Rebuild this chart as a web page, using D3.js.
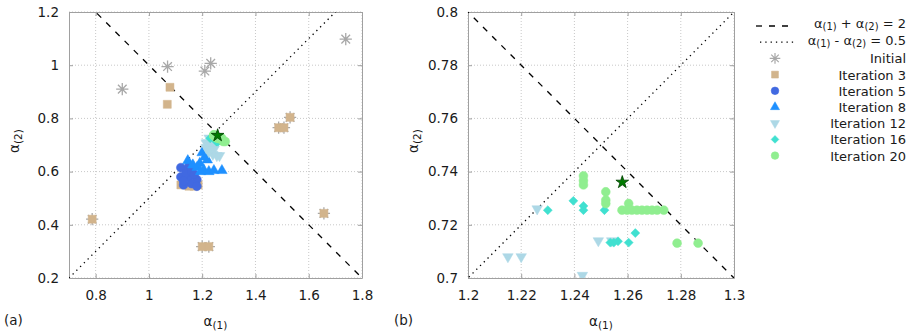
<!DOCTYPE html>
<html lang="en">
<head>
<meta charset="UTF-8">
<script src="https://cdn.jsdelivr.net/npm/d3@7"></script>
<style>
  body { margin: 0; background: #fff; }
  svg { display: block; font-family: "DejaVu Sans", sans-serif; }
</style>
</head>
<body>
<div id="container"></div>
<script>
// ---- data (alpha1, alpha2) ----
const initialPts = [[0.9, 0.91], [1.07, 0.995], [1.21, 0.978], [1.232, 1.007], [1.739, 1.098],
  [1.487, 0.765], [1.507, 0.765], [1.53, 0.804], [0.787, 0.421], [1.657, 0.443], [1.2, 0.318], [1.225, 0.318]];
const iter3Pts = [[1.079, 0.917], [1.069, 0.853], [1.487, 0.765], [1.507, 0.765], [1.53, 0.804],
  [0.787, 0.421], [1.657, 0.443], [1.2, 0.318], [1.225, 0.318],
  [1.12, 0.55], [1.15, 0.545], [1.17, 0.545], [1.185, 0.55]];
const iter5Pts = [[1.12, 0.615], [1.15, 0.62], [1.12, 0.58], [1.15, 0.58], [1.18, 0.57], [1.13, 0.55],
  [1.16, 0.555], [1.18, 0.545], [1.14, 0.595], [1.16, 0.60], [1.13, 0.565], [1.17, 0.59]];
const iter8Pts = [[1.146, 0.641], [1.2, 0.671], [1.191, 0.631], [1.219, 0.644], [1.181, 0.616], [1.206, 0.606],
  [1.225, 0.6], [1.244, 0.604], [1.274, 0.604], [1.194, 0.6], [1.165, 0.625], [1.21, 0.655]];
const iter12Pts = [[1.215, 0.708], [1.22, 0.708], [1.226, 0.726], [1.243, 0.701], [1.249, 0.714], [1.254, 0.714],
  [1.215, 0.69], [1.225, 0.675], [1.24, 0.665], [1.255, 0.66], [1.265, 0.66], [1.23, 0.695], [1.245, 0.685]];
const iter16Pts = [[1.23, 0.7255], [1.2396, 0.729], [1.2434, 0.7271], [1.2434, 0.7255], [1.2513, 0.7255],
  [1.2535, 0.7133], [1.2548, 0.7133], [1.2564, 0.7138], [1.2604, 0.7133], [1.2629, 0.7169]];
const iter20Pts = [[1.2434, 0.7384], [1.2434, 0.7366], [1.2434, 0.735], [1.2518, 0.7324], [1.2518, 0.7293],
  [1.2518, 0.728], [1.2604, 0.728], [1.2579, 0.7255], [1.2598, 0.7255], [1.2616, 0.7255], [1.2635, 0.7255],
  [1.2654, 0.7255], [1.2673, 0.7255], [1.2692, 0.7255], [1.2711, 0.7255], [1.2736, 0.7255],
  [1.2786, 0.7131], [1.2865, 0.7131]];
const bestPts = [[1.258, 0.736]];

const legendLabels = ["Initial", "Iteration 3", "Iteration 5", "Iteration 8", "Iteration 12", "Iteration 16", "Iteration 20"];

const xTicksA = [0.8, 1, 1.2, 1.4, 1.6, 1.8];
const yTicksA = [0.2, 0.4, 0.6, 0.8, 1, 1.2];
const xTicksB = [1.2, 1.22, 1.24, 1.26, 1.28, 1.3];
const yTicksB = [0.7, 0.72, 0.74, 0.76, 0.78, 0.8];

// 8-armed gnuplot style asterisk
const symbolStar8 = {
  draw(ctx, size) {
    const r = Math.sqrt(size) / 2;
    const d = r * Math.SQRT1_2;
    ctx.moveTo(-r, 0); ctx.lineTo(r, 0);
    ctx.moveTo(0, -r); ctx.lineTo(0, r);
    ctx.moveTo(-d, -d); ctx.lineTo(d, d);
    ctx.moveTo(-d, d); ctx.lineTo(d, -d);
  }
};

const series = [
  { data: initialPts, type: symbolStar8, size: 150, color: "#a8a8a8", stroke: true },
  { data: iter3Pts, type: d3.symbolSquare, size: 64, color: "#d2b48c" },
  { data: iter5Pts, type: d3.symbolCircle, size: 62, color: "#4169e1" },
  { data: iter8Pts, type: d3.symbolTriangle, size: 48, color: "#1e90ff" },
  { data: iter12Pts, type: d3.symbolTriangle, size: 48, color: "#add8e6", rot: 180 },
  { data: iter16Pts, type: d3.symbolSquare, size: 40, color: "#40e0d0", rot: 45 },
  { data: iter20Pts, type: d3.symbolCircle, size: 62, color: "#90ee90" }
];

const W = 914, H = 336;
const svg = d3.select("#container").append("svg").attr("width", W).attr("height", H);

function panel(id, xDom, yDom, xTicks, yTicks, left, right, tag, fmt) {
  const top = 12, bottom = 278;
  const x = d3.scaleLinear().domain(xDom).range([left, right]);
  const y = d3.scaleLinear().domain(yDom).range([bottom, top]);

  svg.append("clipPath").attr("id", "clip" + id)
    .append("rect").attr("x", left).attr("y", top).attr("width", right - left).attr("height", bottom - top);

  // grid
  const g = svg.append("g");
  g.selectAll(".gx").data(xTicks).enter().append("line")
    .attr("x1", d => x(d)).attr("x2", d => x(d)).attr("y1", top).attr("y2", bottom)
    .attr("stroke", "#c8c8c8").attr("stroke-dasharray", "1,2");
  g.selectAll(".gy").data(yTicks).enter().append("line")
    .attr("y1", d => y(d)).attr("y2", d => y(d)).attr("x1", left).attr("x2", right)
    .attr("stroke", "#c8c8c8").attr("stroke-dasharray", "1,2");

  // axes
  const xAxis = svg.append("g").attr("transform", "translate(0," + bottom + ")")
    .call(d3.axisBottom(x).tickValues(xTicks).tickFormat(fmt).tickSizeInner(-4).tickSizeOuter(0).tickPadding(12));
  const yAxis = svg.append("g").attr("transform", "translate(" + left + ",0)")
    .call(d3.axisLeft(y).tickValues(yTicks).tickFormat(fmt).tickSizeInner(-4).tickSizeOuter(0).tickPadding(10));
  const xTop = svg.append("g").attr("transform", "translate(0," + top + ")")
    .call(d3.axisTop(x).tickValues(xTicks).tickFormat("").tickSizeInner(-4).tickSizeOuter(0));
  const yRight = svg.append("g").attr("transform", "translate(" + right + ",0)")
    .call(d3.axisRight(y).tickValues(yTicks).tickFormat("").tickSizeInner(-4).tickSizeOuter(0));
  [xAxis, yAxis, xTop, yRight].forEach(a => {
    a.select(".domain").attr("stroke", "#a0a0a0");
    a.selectAll(".tick line").attr("stroke", "#a0a0a0");
    a.selectAll("text").attr("font-family", "DejaVu Sans").attr("font-size", "13.5px").attr("fill", "#1a1a1a");
  });

  const plot = svg.append("g").attr("clip-path", "url(#clip" + id + ")");

  // reference lines: a1 + a2 = 2 and a1 - a2 = 0.5
  const line = d3.line().x(d => x(d[0])).y(d => y(d[1]));
  const lo = xDom[0] - 1, hi = xDom[1] + 1;
  plot.append("path").attr("d", line([[lo, 2 - lo], [hi, 2 - hi]]))
    .attr("stroke", "#000").attr("stroke-width", 1.3).attr("stroke-dasharray", "6,7").attr("fill", "none");
  plot.append("path").attr("d", line([[lo, lo - 0.5], [hi, hi - 0.5]]))
    .attr("stroke", "#000").attr("stroke-width", 1.3).attr("stroke-dasharray", "1.3,4").attr("fill", "none");

  series.forEach(s => {
    const sym = d3.symbol().type(s.type).size(s.size);
    plot.selectAll(null).data(s.data).enter().append("path")
      .attr("d", sym)
      .attr("transform", d => "translate(" + x(d[0]) + "," + y(d[1]) + ")" + (s.rot ? " rotate(" + s.rot + ")" : ""))
      .attr("fill", s.stroke ? "none" : s.color)
      .attr("stroke", s.color)
      .attr("stroke-width", s.stroke ? 1.3 : 0.5);
  });
  plot.selectAll(null).data(bestPts).enter().append("path")
    .attr("d", d3.symbol().type(d3.symbolStar).size(50))
    .attr("transform", d => "translate(" + x(d[0]) + "," + y(d[1]) + ")")
    .attr("fill", "#007a00").attr("stroke", "#004000").attr("stroke-width", 0.8);

  // axis labels
  const xl = svg.append("text").attr("x", (left + right) / 2).attr("y", 326)
    .attr("text-anchor", "middle").attr("font-size", "13.5px").attr("fill", "#1a1a1a");
  xl.append("tspan").text("α");
  xl.append("tspan").attr("font-size", "10.5px").attr("dy", 3).text("(1)");

  const yl = svg.append("text")
    .attr("transform", "translate(" + (left - 50) + "," + ((top + bottom) / 2 - 4) + ") rotate(-90)")
    .attr("text-anchor", "middle").attr("font-size", "13.5px").attr("fill", "#1a1a1a");
  yl.append("tspan").text("α");
  yl.append("tspan").attr("font-size", "10.5px").attr("dy", 3).text("(2)");

  svg.append("text").attr("x", tag[1]).attr("y", 325).attr("font-size", "13.5px")
    .attr("fill", "#1a1a1a").text(tag[0]);
}

panel("a", [0.7, 1.8], [0.2, 1.2], xTicksA, yTicksA, 69, 362, ["(a)", 4], d3.format(""));
panel("b", [1.2, 1.3], [0.7, 0.8], xTicksB, yTicksB, 468, 734, ["(b)", 394], d3.format(""));

// legend
const legX = 906, legSym = 775, legY0 = 26, legDy = 16.2;
const leg = svg.append("g").attr("font-size", "13px").attr("fill", "#1a1a1a");
function subLabel(yy, parts) {
  const t = leg.append("text").attr("x", legX).attr("y", yy + 3).attr("text-anchor", "end");
  parts.forEach(p => {
    const ts = t.append("tspan").text(p[0]);
    if (p[1] != null) ts.attr("font-size", p[1] ? "10px" : null).attr("dy", p[1] ? p[1] : -2);
  });
}
leg.append("line").attr("x1", 756).attr("x2", 794).attr("y1", legY0).attr("y2", legY0)
  .attr("stroke", "#000").attr("stroke-width", 1.3).attr("stroke-dasharray", "6,7");
subLabel(legY0 - 1, [["α"], ["(1)", 2], [" + α", 0], ["(2)", 2], [" = 2", 0]]);
leg.append("line").attr("x1", 760).attr("x2", 794).attr("y1", legY0 + legDy).attr("y2", legY0 + legDy)
  .attr("stroke", "#000").attr("stroke-width", 1.3).attr("stroke-dasharray", "1.3,4");
subLabel(legY0 + legDy, [["α"], ["(1)", 2], [" - α", 0], ["(2)", 2], [" = 0.5", 0]]);

series.forEach((s, i) => {
  const yy = legY0 + (i + 2) * legDy;
  leg.append("path")
    .attr("d", d3.symbol().type(s.type).size(s.size * 0.75)())
    .attr("transform", "translate(" + legSym + "," + yy + ")" + (s.rot ? " rotate(" + s.rot + ")" : ""))
    .attr("fill", s.stroke ? "none" : s.color)
    .attr("stroke", s.color).attr("stroke-width", s.stroke ? 1.2 : 0.5);
  leg.append("text").attr("x", legX).attr("y", yy + 5).attr("text-anchor", "end").text(legendLabels[i]);
});
</script>
</body>
</html>
